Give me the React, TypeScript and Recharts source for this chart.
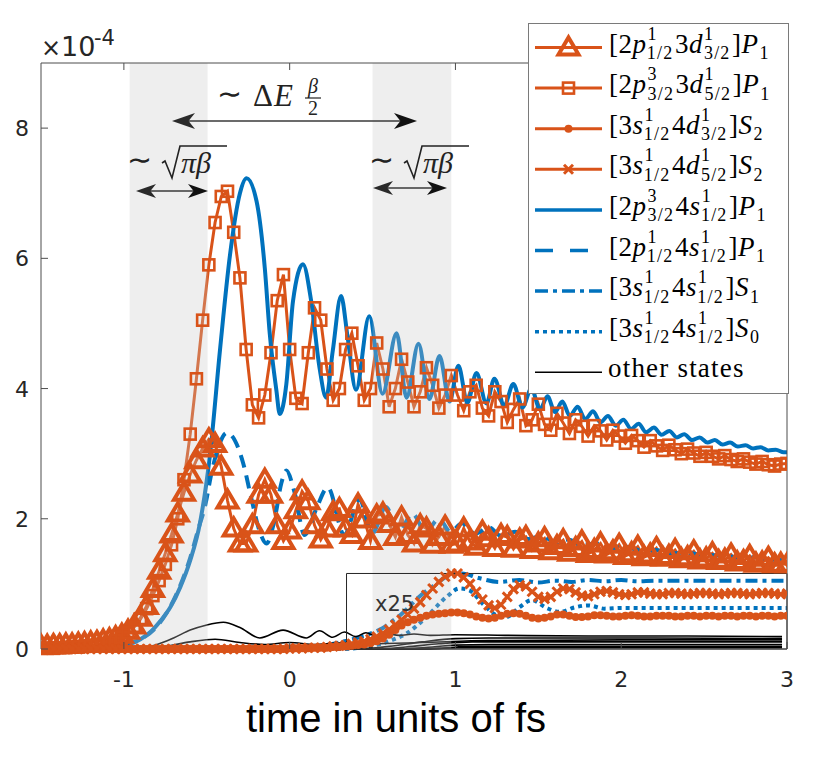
import React from 'react';
import { LineChart, Line, XAxis, YAxis, ReferenceArea } from 'recharts';

const ORANGE = '#D95319';
const BLUE = '#0072BD';
const AX = '#4d4d4d';
const TXT = '#262626';

const W = 830;
const H = 782;
// plot box (px)
const PL = 41;
const PR = 787;
const PT = 63;
const PB = 649;

// orange series are sampled on one time grid (one marker per sample)
const T0 = -1.5;
const DT = 0.0375;

const xTicks = [-1, 0, 1, 2, 3];
const yTicks = [0, 2, 4, 6, 8];

// [2p1/2 3d3/2]P1 (triangles)
const triVals = [
  0.05, 0.05, 0.06, 0.06, 0.07, 0.07, 0.08, 0.09, 0.1, 0.11,
  0.13, 0.15, 0.18, 0.22, 0.28, 0.36, 0.48, 0.66, 0.92, 1.2,
  1.47, 1.76, 2.08, 2.4, 2.68, 2.9, 3.08, 3.22, 3.15, 2.8,
  2.28, 1.85, 1.62, 1.62, 1.9, 2.37, 2.6, 2.37, 1.9, 1.66,
  1.82, 2.13, 2.42, 2.27, 1.9, 1.68, 1.85, 2.1, 2.15, 1.85,
  1.75, 2.22, 1.99, 1.66, 2.05, 2.08, 1.92, 1.72, 2.02, 1.75,
  1.62, 1.9, 1.85, 1.6, 1.72, 1.88, 1.6, 1.62, 1.85, 1.65,
  1.57, 1.8, 1.7, 1.55, 1.75, 1.72, 1.54, 1.68, 1.72, 1.52,
  1.62, 1.7, 1.5, 1.58, 1.67, 1.48, 1.55, 1.65, 1.46, 1.52,
  1.62, 1.45, 1.5, 1.6, 1.43, 1.47, 1.57, 1.41, 1.45, 1.55,
  1.4, 1.43, 1.52, 1.38, 1.41, 1.5, 1.36, 1.39, 1.47, 1.35,
  1.37, 1.45, 1.33, 1.35, 1.43, 1.31, 1.33, 1.4, 1.3, 1.31,
  1.3,
];

// [2p3/2 3d5/2]P1 (squares)
const sqVals = [
  0.01, 0.01, 0.01, 0.02, 0.02, 0.03, 0.03, 0.04, 0.05, 0.06,
  0.08, 0.1, 0.13, 0.18, 0.25, 0.34, 0.46, 0.62, 0.82, 1.05,
  1.3, 1.6, 2.0, 2.6, 3.3, 4.15, 5.05, 5.9, 6.55, 6.95,
  7.03, 6.4, 5.7, 4.6, 3.75, 3.55, 3.9, 4.55, 5.35, 5.75,
  4.6, 3.85, 3.77, 4.55, 5.24, 5.05, 4.3, 3.82, 4.0, 4.6,
  4.85, 4.35, 3.82, 4.0, 4.7, 4.3, 3.72, 4.0, 4.45, 4.1,
  3.72, 3.95, 4.32, 4.05, 3.7, 3.9, 4.2, 3.9, 3.66, 3.95,
  4.05, 3.7, 3.58, 3.95, 3.8, 3.48, 3.68, 3.84, 3.43, 3.52,
  3.76, 3.45, 3.36, 3.62, 3.47, 3.31, 3.52, 3.42, 3.27, 3.43,
  3.35, 3.21, 3.36, 3.27, 3.16, 3.28, 3.2, 3.1, 3.2, 3.12,
  3.05, 3.13, 3.06, 3.0, 3.07, 3.01, 2.96, 3.02, 2.96, 2.92,
  2.97, 2.91, 2.88, 2.92, 2.87, 2.84, 2.88, 2.83, 2.81, 2.84,
  2.85,
];

// [3s1/2 4d3/2]S2 (dots), x25
const dotVals = [
  0, 0, 0, 0, 0, 0, 0, 0, 0, 0,
  0, 0, 0, 0, 0, 0, 0, 0, 0, 0,
  0, 0, 0, 0, 0, 0, 0, 0, 0, 0,
  0, 0, 0, 0, 0, 0, 0, 0, 0, 0,
  0.01, 0.01, 0.01, 0.01, 0.02, 0.02, 0.02, 0.03, 0.03, 0.04,
  0.05, 0.06, 0.07, 0.09, 0.12, 0.16, 0.22, 0.29, 0.36, 0.41,
  0.45, 0.48, 0.51, 0.53, 0.54, 0.55, 0.56, 0.56, 0.55, 0.53,
  0.5, 0.48, 0.47, 0.48, 0.51, 0.54, 0.55, 0.54, 0.51, 0.48,
  0.47, 0.48, 0.5, 0.53, 0.53, 0.51, 0.49, 0.49, 0.5, 0.52,
  0.52, 0.51, 0.5, 0.5, 0.51, 0.52, 0.51, 0.5, 0.5, 0.51,
  0.51, 0.51, 0.5, 0.5, 0.51, 0.51, 0.5, 0.51, 0.51, 0.5,
  0.51, 0.51, 0.5, 0.51, 0.51, 0.5, 0.51, 0.51, 0.5, 0.51,
  0.51,
];

// [3s1/2 4d5/2]S2 (crosses), x25
const crossVals = [
  0, 0, 0, 0, 0, 0, 0, 0, 0, 0,
  0, 0, 0, 0, 0, 0, 0, 0, 0, 0,
  0, 0, 0, 0, 0, 0, 0, 0, 0, 0,
  0, 0, 0, 0, 0, 0, 0, 0, 0, 0,
  0.01, 0.01, 0.01, 0.02, 0.02, 0.02, 0.03, 0.04, 0.05, 0.06,
  0.08, 0.1, 0.12, 0.15, 0.19, 0.24, 0.3, 0.37, 0.45, 0.53,
  0.62, 0.72, 0.83, 0.93, 1.03, 1.11, 1.16, 1.16, 1.1, 1.0,
  0.88, 0.76, 0.67, 0.63, 0.68, 0.8, 0.92, 0.98, 0.96, 0.88,
  0.8, 0.77, 0.8, 0.88, 0.93, 0.92, 0.87, 0.82, 0.81, 0.84,
  0.88, 0.89, 0.87, 0.84, 0.83, 0.84, 0.87, 0.87, 0.85, 0.84,
  0.84, 0.86, 0.86, 0.85, 0.84, 0.85, 0.86, 0.86, 0.85, 0.84,
  0.85, 0.86, 0.86, 0.85, 0.84, 0.85, 0.86, 0.86, 0.85, 0.84,
  0.85,
];

// [2p3/2 4s1/2]P1 (solid blue), [t, value]
const blueSolid: [number, number][] = [
  [-1.5, 0], [-1.3, 0.01], [-1.15, 0.03], [-1.05, 0.05], [-0.96, 0.08], [-0.9, 0.15],
  [-0.84, 0.26], [-0.78, 0.43], [-0.72, 0.64], [-0.66, 0.95], [-0.6, 1.36], [-0.54, 1.95],
  [-0.48, 3.0], [-0.42, 4.6], [-0.36, 6.05], [-0.3, 7.0], [-0.26, 7.23], [-0.2, 6.88],
  [-0.15, 5.85], [-0.12, 4.84], [-0.08, 3.97], [-0.06, 3.61], [-0.02, 4.07], [0.02, 5.34],
  [0.08, 5.91], [0.13, 5.34], [0.18, 4.32], [0.22, 3.86], [0.26, 4.58], [0.31, 5.42],
  [0.35, 4.78], [0.4, 3.98], [0.48, 5.11], [0.56, 3.92], [0.645, 4.85], [0.705, 3.86],
  [0.777, 4.69], [0.843, 3.84], [0.904, 4.5], [0.964, 3.8], [1.018, 4.35], [1.072, 3.78],
  [1.127, 4.24], [1.187, 3.77], [1.235, 4.15], [1.295, 3.74], [1.349, 4.07], [1.404, 3.71],
  [1.458, 4.0], [1.51, 3.68], [1.555, 3.88], [1.6, 3.64], [1.645, 3.8], [1.69, 3.58],
  [1.737, 3.72], [1.783, 3.53], [1.83, 3.65], [1.875, 3.48], [1.92, 3.58], [1.967, 3.43],
  [2.013, 3.52], [2.06, 3.38], [2.105, 3.46], [2.15, 3.33], [2.197, 3.4], [2.243, 3.29],
  [2.29, 3.35], [2.335, 3.25], [2.38, 3.3], [2.427, 3.21], [2.473, 3.25], [2.52, 3.17],
  [2.565, 3.21], [2.61, 3.14], [2.657, 3.17], [2.703, 3.11], [2.75, 3.13], [2.795, 3.08],
  [2.84, 3.1], [2.887, 3.05], [2.933, 3.06], [2.98, 3.02], [3.0, 3.02],
];

// [2p1/2 4s1/2]P1 (dashed blue)
const blueDashed: [number, number][] = [
  [-1.5, 0], [-1.2, 0.02], [-1.0, 0.07], [-0.9, 0.15], [-0.8, 0.35], [-0.7, 0.75],
  [-0.6, 1.4], [-0.55, 1.85], [-0.51, 2.2], [-0.47, 2.72], [-0.43, 3.1], [-0.38, 3.32],
  [-0.33, 3.2], [-0.28, 2.85], [-0.23, 2.3], [-0.18, 1.8], [-0.14, 1.62], [-0.09, 2.0],
  [-0.05, 2.55], [-0.02, 2.74], [0.03, 2.4], [0.09, 1.75], [0.16, 2.15], [0.23, 2.48],
  [0.33, 1.75], [0.42, 2.3], [0.5, 1.78], [0.58, 2.18], [0.66, 1.8], [0.74, 2.08],
  [0.82, 1.8], [0.9, 2.0], [0.97, 1.8], [1.04, 1.93], [1.12, 1.77], [1.2, 1.87],
  [1.28, 1.73], [1.36, 1.8], [1.44, 1.69], [1.52, 1.74], [1.6, 1.64], [1.68, 1.68],
  [1.76, 1.6], [1.85, 1.62], [1.94, 1.55], [2.03, 1.57], [2.12, 1.51], [2.21, 1.52],
  [2.3, 1.47], [2.4, 1.48], [2.5, 1.44], [2.6, 1.44], [2.7, 1.41], [2.8, 1.41],
  [2.9, 1.38], [3.0, 1.37],
];

// [3s1/2 4s1/2]S1 (dash-dot blue), x25
const blueDashDot: [number, number][] = [
  [-1.5, 0], [0.0, 0.01], [0.2, 0.05], [0.3, 0.1], [0.42, 0.18], [0.5, 0.25],
  [0.56, 0.32], [0.62, 0.43], [0.68, 0.55], [0.78, 0.8], [0.885, 1.0], [0.96, 1.13],
  [1.04, 1.16], [1.14, 1.09], [1.265, 1.03], [1.385, 1.06], [1.5, 1.02], [1.6, 1.05],
  [1.7, 1.03], [1.8, 1.06], [1.9, 1.04], [2.0, 1.06], [2.1, 1.04], [2.2, 1.05],
  [2.4, 1.05], [2.6, 1.05], [2.8, 1.05], [3.0, 1.05],
];

// [3s1/2 4s1/2]S0 (dotted blue), x25
const blueDotted: [number, number][] = [
  [-1.5, 0], [0.3, 0.0], [0.45, 0.03], [0.55, 0.08], [0.62, 0.14], [0.705, 0.24],
  [0.825, 0.49], [0.946, 0.8], [1.024, 0.93], [1.084, 0.9], [1.163, 0.7], [1.247, 0.52],
  [1.307, 0.49], [1.385, 0.64], [1.46, 0.75], [1.55, 0.63], [1.63, 0.57], [1.72, 0.64],
  [1.8, 0.67], [1.9, 0.62], [2.0, 0.63], [2.2, 0.63], [2.5, 0.63], [3.0, 0.63],
];

// other states (thin black)
const others: [number, number][][] = [
  [[-1.5, 0], [-1.0, 0.0], [-0.9, 0.02], [-0.8, 0.07], [-0.7, 0.17], [-0.6, 0.29], [-0.5, 0.37],
   [-0.4, 0.41], [-0.3, 0.33], [-0.18, 0.17], [-0.04, 0.29], [0.1, 0.17], [0.18, 0.28],
   [0.26, 0.18], [0.33, 0.26], [0.4, 0.19], [0.46, 0.25], [0.52, 0.2], [0.58, 0.24],
   [0.66, 0.21], [0.75, 0.23], [0.85, 0.21], [1.0, 0.22], [1.3, 0.21], [1.8, 0.2],
   [2.4, 0.2], [2.97, 0.19]],
  [[-1.5, 0], [-0.9, 0.0], [-0.75, 0.04], [-0.6, 0.11], [-0.45, 0.15], [-0.3, 0.1],
   [-0.15, 0.07], [0.0, 0.1], [0.15, 0.07], [0.3, 0.09], [0.5, 0.08], [0.8, 0.1],
   [1.2, 0.13], [2.0, 0.14], [2.97, 0.14]],
  [[-1.5, 0], [0.4, 0.0], [0.6, 0.04], [0.8, 0.11], [1.0, 0.16], [1.2, 0.17], [2.0, 0.17], [2.97, 0.16]],
  [[-1.5, 0], [0.5, 0.0], [0.7, 0.03], [0.9, 0.08], [1.1, 0.11], [2.97, 0.11]],
  [[-1.5, 0], [0.6, 0.0], [0.8, 0.02], [1.0, 0.06], [1.2, 0.07], [2.97, 0.07]],
  [[-1.5, 0], [0.7, 0.0], [0.9, 0.01], [1.1, 0.04], [2.97, 0.04]],
  [[-1.5, 0], [0.8, 0.0], [1.0, 0.02], [2.97, 0.02]],
];

const bands: [number, number][] = [[-0.965, -0.495], [0.5, 0.975]];
const insetBox = { x1: 0.343, x2: 3, y1: 0, y2: 1.16 };

const legendLabels = [
  '[2|p^1_1/2|3|d^1_3/2|]|P_1',
  '[2|p^3_3/2|3|d^1_5/2|]|P_1',
  '[3|s^1_1/2|4|d^1_3/2|]|S_2',
  '[3|s^1_1/2|4|d^1_5/2|]|S_2',
  '[2|p^3_3/2|4|s^1_1/2|]|P_1',
  '[2|p^1_1/2|4|s^1_1/2|]|P_1',
  '[3|s^1_1/2|4|s^1_1/2|]|S_1',
  '[3|s^1_1/2|4|s^1_1/2|]|S_0',
  'other states',
];

const onGrid = (vals: number[]) => vals.map((v, i) => ({ t: +(T0 + i * DT).toFixed(4), v }));
const pts = (p: [number, number][]) => p.map(([t, v]) => ({ t, v }));

// ---- markers ----
const triShape = (cx: number, cy: number, key?: string) => (
  <path key={key} d={`M${cx},${cy - 10}L${cx + 10},${cy + 7}L${cx - 10},${cy + 7}Z`}
    fill="none" stroke={ORANGE} strokeWidth={4} strokeLinejoin="miter" />
);
const sqShape = (cx: number, cy: number, key?: string) => (
  <rect key={key} x={cx - 5.5} y={cy - 5.5} width={11} height={11} fill="none" stroke={ORANGE} strokeWidth={2.6} />
);
const dotShape = (cx: number, cy: number, key?: string) => (
  <circle key={key} cx={cx} cy={cy} r={4} fill={ORANGE} />
);
const crossShape = (cx: number, cy: number, key?: string) => (
  <path key={key} d={`M${cx - 4.5},${cy - 4.5}L${cx + 4.5},${cy + 4.5}M${cx - 4.5},${cy + 4.5}L${cx + 4.5},${cy - 4.5}`}
    stroke={ORANGE} strokeWidth={3} fill="none" />
);

const markerDot = (shape: (cx: number, cy: number, key?: string) => React.ReactElement, tag: string) =>
  (p: any) => {
    const key = `${tag}-${p.index}`;
    if (p.cx == null || p.cy == null) return <g key={key} />;
    return shape(p.cx, p.cy, key);
  };

// ---- axis ticks (MATLAB style, pointing inward) ----
const BottomTick = (p: any) => (
  <g>
    <line x1={p.x} x2={p.x} y1={PB} y2={PB - 7} stroke={AX} />
    <text x={p.x} y={687} textAnchor="middle" fontFamily="DejaVu Sans" fontSize={22} fill={TXT}>
      {String(p.payload.value)}
    </text>
  </g>
);
const TopTick = (p: any) => <line x1={p.x} x2={p.x} y1={PT} y2={PT + 7} stroke={AX} />;
const LeftTick = (p: any) => (
  <g>
    <line x1={PL} x2={PL + 7} y1={p.y} y2={p.y} stroke={AX} />
    <text x={29} y={p.y + 8} textAnchor="end" fontFamily="DejaVu Sans" fontSize={22} fill={TXT}>
      {String(p.payload.value)}
    </text>
  </g>
);
const RightTick = (p: any) => <line x1={PR} x2={PR - 7} y1={p.y} y2={p.y} stroke={AX} />;

// ---- legend text with stacked super/subscripts ----
const FS = 27;
const SS = 18;
const SLS = 1.2; // script letter spacing
function TexLabel({ src, x, y }: { src: string; x: number; y: number }) {
  const spans: React.ReactElement[] = [];
  let pendingDy = 0;
  let k = 0;
  src.split('|').forEach((tok) => {
    const m = tok.match(/^([^\^_]+)(?:\^([^_]+))?(?:_(.+))?$/);
    if (!m) return;
    const [, base, sup, sub] = m;
    const italic = sup != null || sub != null;
    spans.push(
      <tspan key={k++} dy={pendingDy} dx={pendingDy ? 1.5 : 0} fontStyle={italic ? 'italic' : 'normal'}
        letterSpacing={0.5}>{base}</tspan>
    );
    pendingDy = 0;
    if (sup != null && sub != null) {
      spans.push(<tspan key={k++} fontSize={SS} fontStyle="normal" letterSpacing={SLS} dx={1} dy={-13}>{sup}</tspan>);
      spans.push(<tspan key={k++} fontSize={SS} fontStyle="normal" letterSpacing={SLS}
        dx={-(SS * 0.5 + SLS)} dy={19.5}>{sub}</tspan>);
      pendingDy = -6.5;
    } else if (sub != null) {
      spans.push(<tspan key={k++} fontSize={SS} fontStyle="normal" dx={1} dy={6.5}>{sub}</tspan>);
      pendingDy = -6.5;
    }
  });
  return (
    <text x={x} y={y} fontFamily="Liberation Serif" fontSize={FS} fill="#000">{spans}</text>
  );
}

type LegendStyle = { color: string; width: number; dash?: string; marker?: (cx: number, cy: number, key?: string) => React.ReactElement };
const legendStyles: LegendStyle[] = [
  { color: ORANGE, width: 3, marker: triShape },
  { color: ORANGE, width: 3, marker: sqShape },
  { color: ORANGE, width: 3, marker: dotShape },
  { color: ORANGE, width: 3, marker: crossShape },
  { color: BLUE, width: 3.5 },
  { color: BLUE, width: 3.5, dash: '18 17' },
  { color: BLUE, width: 3.5, dash: '13 5 4 5' },
  { color: BLUE, width: 3.5, dash: '4 4' },
  { color: '#000', width: 1.6 },
];

function Legend() {
  const left = 528;
  const top = 23;
  return (
    <svg width={262} height={372} style={{ position: 'absolute', left, top }}>
      <rect x={0.5} y={0.5} width={260} height={370} fill="#fff" stroke="#7a7a7a" strokeWidth={1} />
      {legendLabels.map((lab, i) => {
        const base = 29.5 + i * 40.6;
        const ly = base - 5;
        const st = legendStyles[i];
        return (
          <g key={i}>
            <line x1={7} x2={74} y1={ly} y2={ly} stroke={st.color} strokeWidth={st.width} strokeDasharray={st.dash} />
            {st.marker ? st.marker(40.5, ly, `lm${i}`) : null}
            {i < 8 ? (
              <TexLabel src={lab} x={81} y={base} />
            ) : (
              <text x={80} y={base} fontFamily="Liberation Serif" fontSize={FS} letterSpacing={1.2}>{lab}</text>
            )}
          </g>
        );
      })}
    </svg>
  );
}

// ---- annotations (arrows, formulas, axis labels) ----
function head(xTip: number, y: number, dir: number, L = 21, Wd = 7.5) {
  return `M${xTip},${y}L${xTip - dir * L},${y - Wd}L${xTip - dir * L * 0.72},${y}L${xTip - dir * L},${y + Wd}Z`;
}
function DoubleArrow({ x1, x2, y, L = 21, Wd = 7.5 }: { x1: number; x2: number; y: number; L?: number; Wd?: number }) {
  return (
    <g>
      <line x1={x1 + L * 0.6} x2={x2 - L * 0.6} y1={y} y2={y} stroke="#3a3a3a" strokeWidth={1.4} />
      <path d={head(x1, y, -1, L, Wd)} fill="#2a2a2a" />
      <path d={head(x2, y, 1, L, Wd)} fill="#111" />
    </g>
  );
}
function SqrtPiBeta({ x, y }: { x: number; y: number }) {
  // x: left of the tilde, y: text baseline
  return (
    <g fontFamily="Liberation Serif" fill="#222">
      <text x={x} y={y - 3} fontSize={30}>{'\u223C'}</text>
      <path d={`M${x + 35},${y - 10}L${x + 38},${y - 12}L${x + 45},${y + 5}L${x + 53},${y - 27}L${x + 100},${y - 27}`}
        fill="none" stroke="#222" strokeWidth={1.6} />
      <text x={x + 54} y={y} fontSize={30} fontStyle="italic">{'\u03C0\u03B2'}</text>
    </g>
  );
}

function Overlay() {
  return (
    <svg width={W} height={H} style={{ position: 'absolute', left: 0, top: 0, pointerEvents: 'none' }}>
      {/* axis multiplier */}
      <g fontFamily="DejaVu Sans" fill={TXT}>
        <text x={41} y={56} fontSize={24}>{'\u00D7'}</text>
        <text x={61} y={56} fontSize={27}>10</text>
        <text x={94} y={45} fontSize={21}>-4</text>
      </g>
      {/* ~ dE beta/2 */}
      <g fontFamily="Liberation Serif" fill="#222">
        <text x={217} y={104} fontSize={30}>{'\u223C'}</text>
        <text x={253} y={106} fontSize={31}>{'\u0394'}</text>
        <text x={274} y={106} fontSize={31} fontStyle="italic">E</text>
        <text x={313} y={93} fontSize={20} fontStyle="italic" textAnchor="middle">{'\u03B2'}</text>
        <line x1={305} x2={321} y1={98} y2={98} stroke="#222" strokeWidth={1.2} />
        <text x={313} y={115} fontSize={20} textAnchor="middle">2</text>
      </g>
      <DoubleArrow x1={172} x2={417} y={121} L={23} Wd={8} />
      <SqrtPiBeta x={127} y={173} />
      <SqrtPiBeta x={369} y={173} />
      <DoubleArrow x1={136} x2={208} y={191} L={20} Wd={7} />
      <DoubleArrow x1={373} x2={447} y={188} L={20} Wd={7} />
      {/* inset label */}
      <text x={375} y={611} fontFamily="DejaVu Sans" fontSize={21} fill="#333">x25</text>
      {/* x label */}
      <text x={396} y={732} textAnchor="middle" fontFamily="Liberation Sans" fontSize={40} fill="#000">
        time in units of fs
      </text>
    </svg>
  );
}

export default function App() {
  const tri = onGrid(triVals);
  const sq = onGrid(sqVals);
  const dots = onGrid(dotVals);
  const cross = onGrid(crossVals);
  const common = { xAxisId: 'b', yAxisId: 'l', isAnimationActive: false, activeDot: false, legendType: 'none' as const, dataKey: 'v' };
  return (
    <div style={{ position: 'relative', width: W, height: H, background: '#fff' }}>
      <style>{'body{margin:0}'}</style>
      <LineChart width={W} height={H} margin={{ top: PT - 1, right: W - PR - 1, bottom: 88, left: 0 }}>
        <XAxis xAxisId="b" dataKey="t" type="number" domain={[-1.5, 3]} ticks={xTicks} interval={0}
          allowDataOverflow height={45} axisLine={{ stroke: AX }} tickLine={false} tick={BottomTick} />
        <XAxis xAxisId="t" orientation="top" dataKey="t" type="number" domain={[-1.5, 3]} ticks={xTicks}
          interval={0} allowDataOverflow height={1} axisLine={{ stroke: AX }} tickLine={false} tick={TopTick} />
        <YAxis yAxisId="l" type="number" domain={[0, 9]} ticks={yTicks} interval={0}
          width={PL} axisLine={{ stroke: AX }} tickLine={false} tick={LeftTick} />
        <YAxis yAxisId="r" orientation="right" type="number" domain={[0, 9]} ticks={yTicks} interval={0}
          width={1} axisLine={{ stroke: AX }} tickLine={false} tick={RightTick} />

        <Line {...common} data={tri} type="linear" stroke={ORANGE} strokeWidth={3}
          dot={markerDot(triShape, 'tri')} />
        <Line {...common} data={sq} type="linear" stroke={ORANGE} strokeWidth={3}
          dot={markerDot(sqShape, 'sq')} />
        <Line {...common} data={dots} type="linear" stroke={ORANGE} strokeWidth={3}
          dot={markerDot(dotShape, 'dot')} />
        <Line {...common} data={cross} type="linear" stroke={ORANGE} strokeWidth={3}
          dot={markerDot(crossShape, 'x')} />

        <Line {...common} data={pts(blueSolid)} type="monotone" stroke={BLUE} strokeWidth={4} dot={false} />
        <Line {...common} data={pts(blueDashed)} type="monotone" stroke={BLUE} strokeWidth={4}
          strokeDasharray="13 8" dot={false} />
        <Line {...common} data={pts(blueDashDot)} type="monotone" stroke={BLUE} strokeWidth={4}
          strokeDasharray="12 5 4 5" dot={false} />
        <Line {...common} data={pts(blueDotted)} type="monotone" stroke={BLUE} strokeWidth={4}
          strokeDasharray="4 4" dot={false} />

        {others.map((o, i) => (
          <Line key={`o${i}`} {...common} data={pts(o)} type="monotone" stroke="#000" strokeWidth={1.6} dot={false} />
        ))}

        {bands.map(([a, b], i) => (
          <ReferenceArea key={`band${i}`} xAxisId="b" yAxisId="l" x1={a} x2={b} y1={0} y2={9}
            fill="#c8c8c8" fillOpacity={0.3} stroke="none" zIndex={450} />
        ))}
        <ReferenceArea xAxisId="b" yAxisId="l" x1={insetBox.x1} x2={insetBox.x2} y1={insetBox.y1} y2={insetBox.y2}
          fill="none" fillOpacity={0} stroke="#262626" strokeWidth={1} zIndex={460} />
      </LineChart>
      <Overlay />
      <Legend />
    </div>
  );
}
